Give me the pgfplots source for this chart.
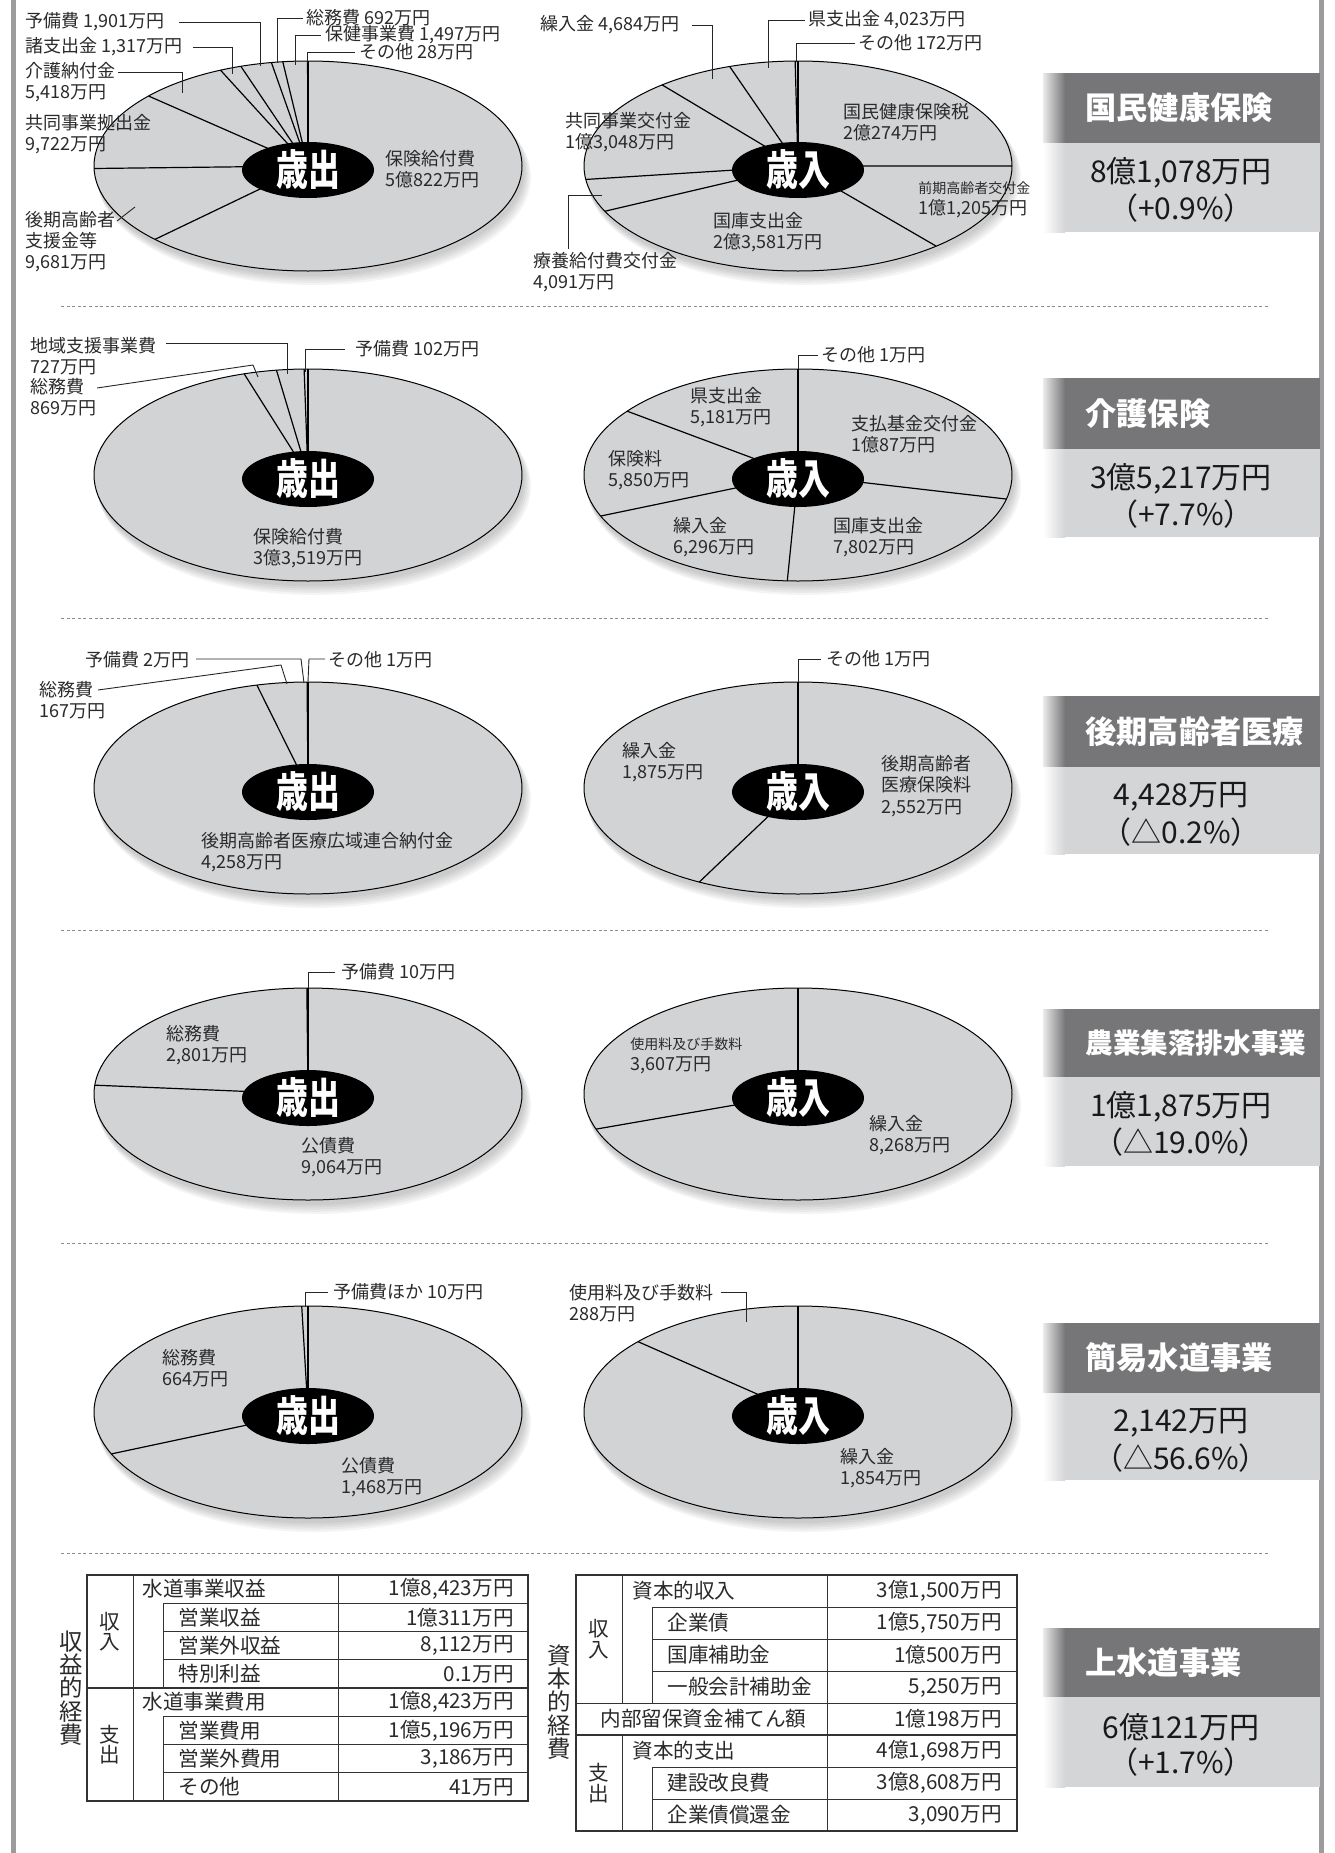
\documentclass[border=0pt]{standalone}
\usepackage{fontspec}
\setmainfont{Noto Sans CJK JP}
\usepackage{graphicx}
\usepackage{pgfplots}
\pgfplotsset{compat=1.18}

\definecolor{piegray}{HTML}{D2D3D5}
\definecolor{hdr}{HTML}{767678}
\definecolor{boxlight}{HTML}{D4D5D7}
\definecolor{bar}{HTML}{9C9C9E}
\definecolor{txt}{HTML}{2A2A2A}

\tikzset{
  lbl/.style={anchor=west, inner sep=0pt, align=left, text=txt, font=\fontsize{9}{10.6}\selectfont},
  slice/.style={black, line width=0.6pt},
  leader/.style={black!85, line width=0.45pt},
  ctr/.style={inner sep=0pt, text=white, font=\fontsize{21}{21}\selectfont\bfseries},
  ttl/.style={anchor=west, inner sep=0pt, text=white, font=\fontsize{15.6}{16}\selectfont\bfseries},
  ttls/.style={anchor=west, inner sep=0pt, text=white, font=\fontsize{13.8}{14}\selectfont\bfseries},
  amt/.style={inner sep=0pt, text=black!90, font=\fontsize{15}{16}\selectfont},
  tbl/.style={anchor=west, inner sep=0pt, text=txt, font=\fontsize{10.3}{12}\selectfont},
  tblv/.style={anchor=east, inner sep=0pt, text=txt, font=\fontsize{10.3}{12}\selectfont},
  tblvert/.style={inner sep=0pt, align=center, text=txt, font=\fontsize{10.3}{10.2}\selectfont},
  tblo/.style={draw=black!80, line width=1pt},
  tbli/.style={draw=black!80, line width=0.5pt},
  sep/.style={draw=black!45, line width=0.5pt, dash pattern=on 1.5pt off 1.3pt},
}

% pie: cx, cy, x radius, y radius (pixels), values clockwise from 12 o'clock, centre word
\newcommand\pie[6]{%
  \foreach \k in {1,...,5}{%
    \edef\tmp{\noexpand\fill[black, opacity=0.045] (axis cs:\fpeval{#1+1+\k},\fpeval{#2+3+1.6*\k}) ellipse [x radius=\fpeval{(#3+0.6*\k)/2}pt, y radius=\fpeval{(#4+0.6*\k)/2}pt];}\tmp}%
  \edef\tmp{\noexpand\fill[piegray] (axis cs:#1,#2) ellipse [x radius=\fpeval{#3/2}pt, y radius=\fpeval{#4/2}pt];}\tmp
  \gdef\pietot{0}%
  \foreach \v in {#5}{\xdef\pietot{\fpeval{\pietot+\v}}}%
  \edef\tmp{\noexpand\draw[slice] (axis cs:#1,#2) -- (axis cs:#1,\fpeval{#2-#4});}\tmp
  \gdef\piecum{0}%
  \foreach \v in {#5}{%
    \xdef\piecum{\fpeval{\piecum+\v}}%
    \edef\tmp{\noexpand\draw[slice] (axis cs:#1,#2) -- (axis cs:\fpeval{round(#1+#3*cosd(90-360*\piecum/\pietot),2)},\fpeval{round(#2-#4*sind(90-360*\piecum/\pietot),2)});}\tmp}%
  \edef\tmp{\noexpand\draw[black, line width=0.5pt] (axis cs:#1,#2) ellipse [x radius=\fpeval{#3/2}pt, y radius=\fpeval{#4/2}pt];}\tmp
  \edef\tmp{\noexpand\fill[black] (axis cs:#1,\fpeval{#2+4}) ellipse [x radius=33pt, y radius=14pt];}\tmp
  \edef\tmp{\noexpand\node[ctr] at (axis cs:#1,\fpeval{#2+4}) {\noexpand\scalebox{0.76}[1]{\unexpanded{#6}}};}\tmp
}

% side box: top, middle, bottom, title, amount, change, title style
\newcommand\sidebox[7]{%
  \edef\tmp{%
    \noexpand\fill[hdr] (axis cs:1064,#1) rectangle (axis cs:1320,#2);
    \noexpand\path[left color=hdr!15, right color=hdr] (axis cs:1043,#1) rectangle (axis cs:1065,#2);
    \noexpand\fill[boxlight] (axis cs:1064,#2) rectangle (axis cs:1320,#3);
    \noexpand\path[left color=white, right color=boxlight] (axis cs:1043,#2) rectangle (axis cs:1065,#3);
    \noexpand\node[#7] at (axis cs:1085,\fpeval{(#1+#2)/2}) {\unexpanded{#4}};
    \noexpand\node[amt] at (axis cs:1181,\fpeval{#2+30}) {\unexpanded{#5}};
    \noexpand\node[amt] at (axis cs:1181,\fpeval{#2+65}) {\unexpanded{#6}};
  }\tmp}

\newcommand\lbl[3]{\node[lbl] at (axis cs:#1,#2) {#3};}
\newcommand\ld[6]{\draw[leader] (axis cs:#1,#2) -- (axis cs:#3,#4) -- (axis cs:#5,#6);}

\begin{document}
\begin{tikzpicture}
\begin{axis}[name=ax, hide axis, scale only axis, width=667pt, height=926.5pt,
  xmin=0, xmax=1334, ymin=0, ymax=1853, y dir=reverse, clip=false]
\addplot[draw=none, forget plot] coordinates {(0,0) (1334,1853)};

% frame bars and separators
\fill[bar] (axis cs:11,0) rectangle (axis cs:15.5,1853);
\fill[bar] (axis cs:1319,0) rectangle (axis cs:1324,1853);
\draw[sep] (axis cs:61,306) -- (axis cs:1270,306);
\draw[sep] (axis cs:61,618) -- (axis cs:1270,618);
\draw[sep] (axis cs:61,930) -- (axis cs:1270,930);
\draw[sep] (axis cs:61,1243) -- (axis cs:1270,1243);
\draw[sep] (axis cs:61,1553) -- (axis cs:1270,1553);

% ---- 国民健康保険
\pie{308}{166}{214}{105}{50822,9681,9722,5418,1317,1901,692,1497,28}{歳出}
\pie{798}{166}{214}{105}{20274,11205,23581,4091,13048,4684,4023,172}{歳入}
\lbl{25}{22}{予備費 1,901万円}
\lbl{25}{47}{諸支出金 1,317万円}
\lbl{25}{82.5}{介護納付金\\5,418万円}
\lbl{25}{134.5}{共同事業拠出金\\9,722万円}
\lbl{25}{241.5}{後期高齢者\\支援金等\\9,681万円}
\lbl{306}{18}{総務費 692万円}
\lbl{325}{35}{保健事業費 1,497万円}
\lbl{359}{52}{その他 28万円}
\lbl{385}{169.5}{保険給付費\\5億822万円}
\ld{179}{22}{260}{22}{260}{66}
\ld{193}{47}{232}{47}{232}{74}
\ld{118}{72}{182}{72}{182}{93}
\ld{303}{18}{277}{18}{277}{63}
\ld{321}{35}{295}{35}{295}{65}
\ld{355}{52}{307}{52}{307}{62}
\draw[leader] (axis cs:117,221) -- (axis cs:135,207);

\lbl{540}{25}{繰入金 4,684万円}
\lbl{808}{20}{県支出金 4,023万円}
\lbl{858}{43}{その他 172万円}
\lbl{843}{122}{国民健康保険税\\2億274万円}
\node[lbl] at (axis cs:918,200) {{\fontsize{7}{8}\selectfont 前期高齢者交付金}\\1億1,205万円};
\lbl{713}{232.5}{国庫支出金\\2億3,581万円}
\lbl{565}{132}{共同事業交付金\\1億3,048万円}
\lbl{533}{272.5}{療養給付費交付金\\4,091万円}
\ld{692}{25}{712}{25}{712}{79}
\ld{805}{20}{768}{20}{768}{68}
\ld{855}{43}{796.5}{43}{796.5}{62}
\ld{602}{195}{568}{195}{568}{249}

% ---- 介護保険
\pie{308}{475}{214}{106}{33519,869,727,102}{歳出}
\pie{798}{475}{214}{106}{10087,7802,6296,5850,5181,1}{歳入}
\lbl{30}{356.5}{地域支援事業費\\727万円}
\lbl{30}{397.5}{総務費\\869万円}
\lbl{355}{349}{予備費 102万円}
\lbl{253}{548}{保険給付費\\3億3,519万円}
\ld{166}{343}{287}{343}{287}{374}
\ld{97}{388}{253}{365}{258}{377}
\ld{345}{349}{305}{349}{305}{372}
\lbl{821}{355}{その他 1万円}
\ld{818}{355}{798}{355}{798}{369}
\lbl{690}{407}{県支出金\\5,181万円}
\lbl{851}{434}{支払基金交付金\\1億87万円}
\lbl{608}{470}{保険料\\5,850万円}
\lbl{673}{537.5}{繰入金\\6,296万円}
\lbl{833}{537.5}{国庫支出金\\7,802万円}

% ---- 後期高齢者医療
\pie{308}{788}{214}{106}{4258,167,2,1}{歳出}
\pie{798}{788}{214}{106}{2552,1875,1}{歳入}
\lbl{85}{660}{予備費 2万円}
\lbl{39}{700}{総務費\\167万円}
\lbl{328}{660}{その他 1万円}
\lbl{201}{852.5}{後期高齢者医療広域連合納付金\\4,258万円}
\ld{196}{659}{301}{659}{304}{683}
\ld{98}{690}{281}{665}{287}{684}
\ld{325}{659}{309}{659}{308}{682}
\lbl{826}{659}{その他 1万円}
\ld{821}{659}{798}{659}{798}{682}
\lbl{622}{762}{繰入金\\1,875万円}
\lbl{881}{786}{後期高齢者\\医療保険料\\2,552万円}

% ---- 農業集落排水事業
\pie{308}{1094}{214}{106}{9064,2801,10}{歳出}
\pie{798}{1094}{214}{106}{8268,3607}{歳入}
\lbl{341}{972}{予備費 10万円}
\ld{335}{972}{308}{972}{308}{988}
\lbl{166}{1045}{総務費\\2,801万円}
\lbl{301}{1157.5}{公債費\\9,064万円}
\node[lbl] at (axis cs:630,1056) {{\fontsize{7}{8}\selectfont 使用料及び手数料}\\3,607万円};
\lbl{869}{1135}{繰入金\\8,268万円}

% ---- 簡易水道事業
\pie{308}{1412}{214}{106}{1468,664,10}{歳出}
\pie{798}{1412}{214}{106}{1854,288}{歳入}
\lbl{333}{1292}{予備費ほか 10万円}
\ld{328}{1292}{305}{1292}{305}{1307}
\lbl{162}{1368.5}{総務費\\664万円}
\lbl{341}{1477}{公債費\\1,468万円}
\lbl{569}{1303}{使用料及び手数料\\288万円}
\ld{721}{1292}{746}{1292}{746}{1322}
\lbl{840}{1468}{繰入金\\1,854万円}

% ---- side boxes
\sidebox{73}{143}{232}{国民健康保険}{8億1,078万円}{（+0.9\%）}{ttl}
\sidebox{378}{449}{537}{介護保険}{3億5,217万円}{（+7.7\%）}{ttl}
\sidebox{696}{767}{854}{後期高齢者医療}{4,428万円}{（△0.2\%）}{ttl}
\sidebox{1009}{1077}{1166}{農業集落排水事業}{1億1,875万円}{（△19.0\%）}{ttls}
\sidebox{1323}{1393}{1480}{簡易水道事業}{2,142万円}{（△56.6\%）}{ttl}
\sidebox{1628}{1697}{1787}{上水道事業}{6億121万円}{（+1.7\%）}{ttl}

% ---- 上水道 table: 収益的経費
\node[inner sep=0pt, align=center, text=txt, font=\fontsize{11.7}{11.7}\selectfont] at (axis cs:71,1688) {収\\益\\的\\経\\費};
\draw[tbli] (axis cs:133,1575) -- (axis cs:133,1801);
\draw[tbli] (axis cs:338,1575) -- (axis cs:338,1801);
\draw[tbli] (axis cs:163,1603.25) -- (axis cs:163,1688);
\draw[tbli] (axis cs:163,1716.25) -- (axis cs:163,1801);
\draw[tbli] (axis cs:163,1603.25) -- (axis cs:528,1603.25);
\draw[tbli] (axis cs:163,1631.5) -- (axis cs:528,1631.5);
\draw[tbli] (axis cs:163,1659.75) -- (axis cs:528,1659.75);
\draw[tbli] (axis cs:163,1716.25) -- (axis cs:528,1716.25);
\draw[tbli] (axis cs:163,1744.5) -- (axis cs:528,1744.5);
\draw[tbli] (axis cs:163,1772.75) -- (axis cs:528,1772.75);
\draw[tblo] (axis cs:87,1688) -- (axis cs:528,1688);
\draw[tblo] (axis cs:87,1575) rectangle (axis cs:528,1801);
\node[tblvert] at (axis cs:110,1631.5) {収\\入};
\node[tblvert] at (axis cs:110,1744.5) {支\\出};
\node[tbl] at (axis cs:142,1589.1) {水道事業収益};
\node[tbl] at (axis cs:178,1617.4) {営業収益};
\node[tbl] at (axis cs:178,1645.6) {営業外収益};
\node[tbl] at (axis cs:178,1673.9) {特別利益};
\node[tbl] at (axis cs:142,1702.1) {水道事業費用};
\node[tbl] at (axis cs:178,1730.4) {営業費用};
\node[tbl] at (axis cs:178,1758.6) {営業外費用};
\node[tbl] at (axis cs:178,1786.9) {その他};
\node[tblv] at (axis cs:514,1589.1) {1億8,423万円};
\node[tblv] at (axis cs:514,1617.4) {1億311万円};
\node[tblv] at (axis cs:514,1645.6) {8,112万円};
\node[tblv] at (axis cs:514,1673.9) {0.1万円};
\node[tblv] at (axis cs:514,1702.1) {1億8,423万円};
\node[tblv] at (axis cs:514,1730.4) {1億5,196万円};
\node[tblv] at (axis cs:514,1758.6) {3,186万円};
\node[tblv] at (axis cs:514,1786.9) {41万円};

% ---- 上水道 table: 資本的経費
\node[inner sep=0pt, align=center, text=txt, font=\fontsize{11.7}{11.7}\selectfont] at (axis cs:559,1702) {資\\本\\的\\経\\費};
\draw[tbli] (axis cs:622,1575) -- (axis cs:622,1703);
\draw[tbli] (axis cs:622,1735) -- (axis cs:622,1831);
\draw[tbli] (axis cs:652,1607) -- (axis cs:652,1703);
\draw[tbli] (axis cs:652,1767) -- (axis cs:652,1831);
\draw[tbli] (axis cs:827,1575) -- (axis cs:827,1831);
\draw[tbli] (axis cs:652,1607) -- (axis cs:1017,1607);
\draw[tbli] (axis cs:652,1639) -- (axis cs:1017,1639);
\draw[tbli] (axis cs:652,1671) -- (axis cs:1017,1671);
\draw[tbli] (axis cs:576,1703) -- (axis cs:1017,1703);
\draw[tbli] (axis cs:652,1767) -- (axis cs:1017,1767);
\draw[tbli] (axis cs:652,1799) -- (axis cs:1017,1799);
\draw[tblo] (axis cs:576,1735) -- (axis cs:1017,1735);
\draw[tblo] (axis cs:576,1575) rectangle (axis cs:1017,1831);
\node[tblvert] at (axis cs:599,1639) {収\\入};
\node[tblvert] at (axis cs:599,1783) {支\\出};
\node[tbl] at (axis cs:632,1591) {資本的収入};
\node[tbl] at (axis cs:667,1623) {企業債};
\node[tbl] at (axis cs:667,1655) {国庫補助金};
\node[tbl] at (axis cs:667,1687) {一般会計補助金};
\node[tbl] at (axis cs:600,1719) {内部留保資金補てん額};
\node[tbl] at (axis cs:632,1751) {資本的支出};
\node[tbl] at (axis cs:667,1783) {建設改良費};
\node[tbl] at (axis cs:667,1815) {企業債償還金};
\node[tblv] at (axis cs:1002,1591) {3億1,500万円};
\node[tblv] at (axis cs:1002,1623) {1億5,750万円};
\node[tblv] at (axis cs:1002,1655) {1億500万円};
\node[tblv] at (axis cs:1002,1687) {5,250万円};
\node[tblv] at (axis cs:1002,1719) {1億198万円};
\node[tblv] at (axis cs:1002,1751) {4億1,698万円};
\node[tblv] at (axis cs:1002,1783) {3億8,608万円};
\node[tblv] at (axis cs:1002,1815) {3,090万円};
\end{axis}
\pgfresetboundingbox
\path (ax.south west) rectangle (ax.north east);
\end{tikzpicture}
\end{document}
